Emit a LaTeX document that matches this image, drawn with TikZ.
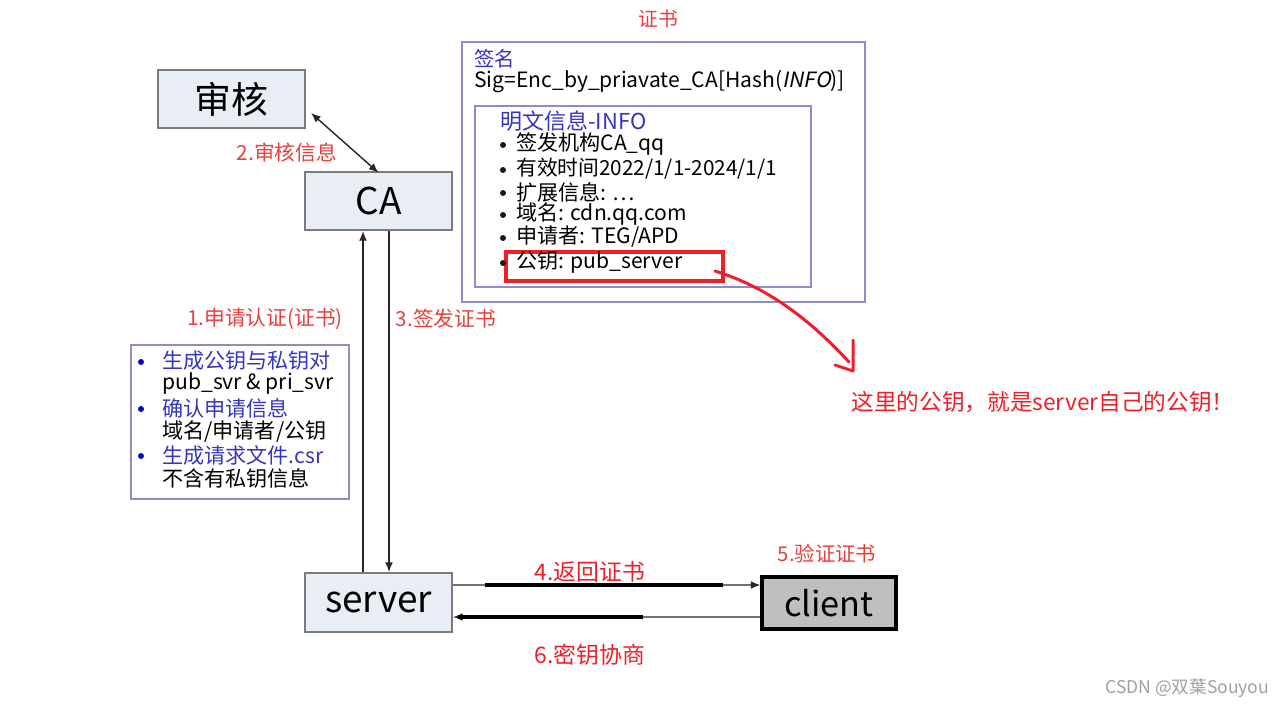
\documentclass[tikz,border=0pt]{standalone}
\usepackage{fontspec}
\setmainfont{Noto Sans CJK SC}
\newfontfamily\slantfont[FakeSlant=0.2]{Noto Sans CJK SC}
\usetikzlibrary{arrows.meta,calc}
\definecolor{boxfill}{HTML}{E9EDF6}
\definecolor{boxline}{HTML}{7A7A7A}
\definecolor{certline}{HTML}{8C8CC8}
\definecolor{lred}{HTML}{E8403C}
\definecolor{bred}{HTML}{F01E28}
\definecolor{lblue}{HTML}{3535C0}
\definecolor{dblue}{HTML}{0000CC}
\definecolor{wmgray}{HTML}{A0A0A0}
\begin{document}
\begin{tikzpicture}[x=0.02cm,y=-0.02cm,
  procbox/.style={draw=boxline,line width=1.2pt,fill=boxfill,inner sep=0pt,font=\fontsize{21}{24}\selectfont},
  clientbox/.style={draw=black,line width=1.8pt,fill=black!25,inner sep=0pt,font=\fontsize{19.5}{22}\selectfont},
  frame/.style={draw=certline,line width=1pt,inner sep=0pt},
  redframe/.style={draw=bred,line width=2pt,inner sep=0pt},
  txt/.style={anchor=west,inner sep=0pt,font=\fontsize{12}{14}\selectfont},
  dot/.style={circle,fill=black!90,inner sep=0pt,minimum size=0.12cm},
  redlbl/.style={inner sep=0pt,text=lred,font=\fontsize{11.8}{14}\selectfont},
  arr/.style={-{Latex[length=5.5pt,width=4.5pt]},line width=0.8pt,black!85},
  arrtwo/.style={{Latex[length=5.5pt,width=4.5pt]}-{Latex[length=5.5pt,width=4.5pt]},line width=0.8pt,black!85},
  thickseg/.style={line width=2.4pt,black},
  redpen/.style={bred,line width=1.7pt,line cap=round,line join=round}
]
\useasboundingbox[fill=white] (0,0) rectangle (1279,708);

% certificate frames
\node[frame,minimum width=8.06cm,minimum height=5.2cm] (cert) at (663.5,172) {};
\node[frame,minimum width=6.72cm,minimum height=3.62cm] (info) at (643,196.5) {};
\node[redframe,minimum width=4.34cm,minimum height=0.58cm] (pubkey) at (614.5,266.5) {};

% process boxes
\node[procbox,minimum width=2.94cm,minimum height=1.16cm] (shenhe) at (231.5,99) {审核};
\node[procbox,minimum width=2.94cm,minimum height=1.16cm] (ca) at (378.5,201) {CA};
\node[procbox,minimum width=2.94cm,minimum height=1.18cm] (server) at (378.5,602.5) {server};
\node[clientbox,minimum width=2.68cm,minimum height=1.04cm] (client) at (829,603) {client};

% left info box
\node[frame,minimum width=4.36cm,minimum height=3.08cm] (csr) at (240,422) {};

% certificate texts
\node[redlbl,font=\fontsize{11.3}{14}\selectfont] (certtitle) at (658,19) {证书};
\node[txt,text=lblue,font=\fontsize{11.6}{14}\selectfont] (signame) at (474,59) {签名};
\node[txt] (sig) at (474,82) {Sig=Enc\_by\_priavate\_CA[Hash({\slantfont INFO})]};
\node[txt,text=lblue,font=\fontsize{12.5}{14}\selectfont] (infotitle) at (500,121) {明文信息-INFO};
\node[dot] (bul1) at (503,145) {};
\node[txt] (item1) at (516,144) {签发机构CA\_qq};
\node[dot] (bul2) at (503,170) {};
\node[txt,font=\fontsize{11.8}{14}\selectfont] (item2) at (516,169) {有效时间2022/1/1-2024/1/1};
\node[dot] (bul3) at (503,193) {};
\node[txt] (item3) at (516,192) {扩展信息: \ldots};
\node[dot] (bul4) at (503,215) {};
\node[txt] (item4) at (516,214) {域名: cdn.qq.com};
\node[dot] (bul5) at (503,238) {};
\node[txt] (item5) at (516,237) {申请者: TEG/APD};
\node[dot] (bul6) at (503,263) {};
\node[txt] (item6) at (516,262) {公钥: pub\_server};

% left box texts
\node[dot,fill=dblue] (lb1) at (141,362) {};
\node[txt,text=lblue] (l1) at (162,361) {生成公钥与私钥对};
\node[txt] (l2) at (162,384) {pub\_svr \& pri\_svr};
\node[dot,fill=dblue] (lb2) at (141,409) {};
\node[txt,text=lblue] (l3) at (162,408) {确认申请信息};
\node[txt] (l4) at (162,431) {域名/申请者/公钥};
\node[dot,fill=dblue] (lb3) at (141,456) {};
\node[txt,text=lblue] (l5) at (162,455) {生成请求文件.csr};
\node[txt] (l6) at (162,478) {不含有私钥信息};

% red labels
\node[redlbl] (lab2) at (287,153) {2.审核信息};
\node[redlbl] (lab1) at (265,319) {1.申请认证(证书)};
\node[redlbl] (lab3) at (446,319) {3.签发证书};
\node[redlbl,text=bred,font=\fontsize{13}{15}\selectfont] (lab4) at (590,572) {4.返回证书};
\node[redlbl,text=bred,font=\fontsize{13}{15}\selectfont] (lab6) at (590,655) {6.密钥协商};
\node[redlbl,font=\fontsize{11.6}{14}\selectfont] (lab5) at (827,554) {5.验证证书};
\node[redlbl,text=bred,anchor=west,font=\fontsize{12.9}{15}\selectfont] (note) at (851,402) {这里的公钥，就是server自己的公钥！};

% watermark
\node[txt,text=wmgray,font=\fontsize{10}{12}\selectfont] (wm) at (1105,688) {CSDN @双葉Souyou};

% connectors
\draw[arrtwo] ([xshift=0.1cm,yshift=-0.28cm]shenhe.east) -- ([yshift=-1pt]ca.north);
\draw[arr] ([xshift=-0.31cm]server.north) -- ([xshift=-0.31cm]ca.south);
\draw[arr] ([xshift=0.21cm]ca.south) -- ([xshift=0.21cm]server.north);
\draw[arr] ([yshift=0.35cm]server.east) -- ([yshift=0.36cm]client.west);
\draw[arr] ([yshift=-0.28cm]client.west) -- ([yshift=-0.29cm]server.east);
\coordinate (t1) at (485,585);
\coordinate (t2) at (723,585);
\coordinate (b1) at (458,617);
\coordinate (b2) at (643,617);
\draw[thickseg] (t1) -- (t2);
\draw[thickseg] (b1) -- (b2);

% red hand-drawn arrow
\coordinate (rs) at (715,271);
\coordinate (re) at (849,362);
\draw[redpen] (rs) .. controls (770,288) and (812,322) .. (re);
\coordinate (h1) at (853,340);
\coordinate (h2) at (853,371);
\coordinate (h3) at (835,365);
\draw[redpen] (h1) -- (h2) -- (h3);
\end{tikzpicture}
\end{document}
